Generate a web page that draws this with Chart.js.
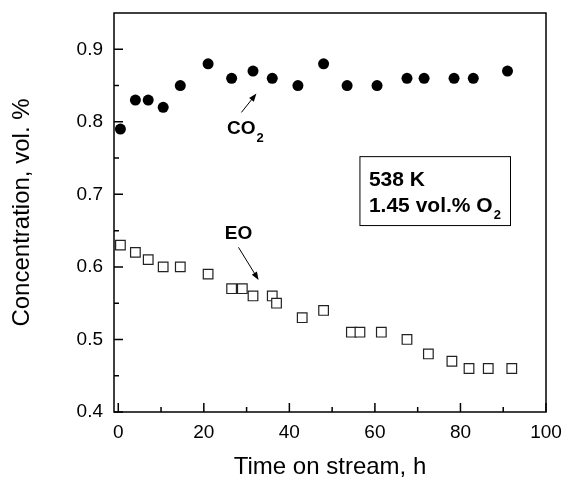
<!DOCTYPE html>
<html>
<head>
<meta charset="utf-8">
<script src="https://cdn.jsdelivr.net/npm/chart.js@4.4.1/dist/chart.umd.min.js"></script>
<style>
  html, body { margin: 0; padding: 0; background: #fff; overflow: hidden; }
  canvas { display: block; }
</style>
</head>
<body>
<canvas id="myChart" width="566" height="479"></canvas>
<script>
/*---------------------------- data ------------------------------------*/
var timeCO2 = [0.5, 4, 7, 10.5, 14.5, 21, 26.5, 31.5, 36, 42, 48, 53.5, 60.5, 67.5, 71.5, 78.5, 83, 91];
var co2     = [0.79, 0.83, 0.83, 0.82, 0.85, 0.88, 0.86, 0.87, 0.86, 0.85, 0.88, 0.85, 0.85, 0.86, 0.86, 0.86, 0.86, 0.87];

var timeEO = [0.5, 4, 7, 10.5, 14.5, 21, 26.5, 29, 31.5, 36, 37, 43, 48, 54.5, 56.5, 61.5, 67.5, 72.5, 78, 82, 86.5, 92];
var eo     = [0.63, 0.62, 0.61, 0.60, 0.60, 0.59, 0.57, 0.57, 0.56, 0.56, 0.55, 0.53, 0.54, 0.51, 0.51, 0.51, 0.50, 0.48, 0.47, 0.46, 0.46, 0.46];

var xTicks = [0, 20, 40, 60, 80, 100];
var yTicks = [0.4, 0.5, 0.6, 0.7, 0.8, 0.9];

var FONT = "'Liberation Sans', Arial, sans-serif";

/*---------------------------- frame + inward ticks + notes ------------------------------------*/
function arrow(ctx, x1, y1, x2, y2) {
  var a = Math.atan2(y2 - y1, x2 - x1), L = 8, W = 3;
  ctx.beginPath();
  ctx.moveTo(x1, y1);
  ctx.lineTo(x2 - L * 0.7 * Math.cos(a), y2 - L * 0.7 * Math.sin(a));
  ctx.stroke();
  ctx.beginPath();
  ctx.moveTo(x2, y2);
  ctx.lineTo(x2 - L * Math.cos(a) + W * Math.sin(a), y2 - L * Math.sin(a) - W * Math.cos(a));
  ctx.lineTo(x2 - L * Math.cos(a) - W * Math.sin(a), y2 - L * Math.sin(a) + W * Math.cos(a));
  ctx.closePath();
  ctx.fill();
}

function subText(ctx, x, y, main, sub, size) {
  ctx.font = "bold " + size + "px " + FONT;
  ctx.textBaseline = "middle";
  ctx.textAlign = "left";
  ctx.fillText(main, x, y);
  var w = ctx.measureText(main).width;
  if (sub) {
    ctx.font = "bold 13px " + FONT;
    ctx.fillText(sub, x + w + 1, y + 9);
  }
}

var framePlugin = {
  id: "frame",
  afterDraw: function (chart) {
    var ctx = chart.ctx, a = chart.chartArea;
    var xs = chart.scales.x, ys = chart.scales.y;
    ctx.save();
    ctx.strokeStyle = "#000";
    ctx.fillStyle = "#000";
    ctx.lineWidth = 1.5;
    ctx.strokeRect(a.left, a.top, a.right - a.left, a.bottom - a.top);

    // inward ticks
    ctx.beginPath();
    for (var v = 0; v <= 100; v += 10) {
      var px = xs.getPixelForValue(v);
      var len = (v % 20 === 0) ? 9 : 5;
      ctx.moveTo(px, a.bottom);
      ctx.lineTo(px, a.bottom - len);
    }
    for (var k = 8; k <= 18; k++) {
      var py = ys.getPixelForValue(k * 0.05);
      var len2 = (k % 2 === 0) ? 9 : 5;
      ctx.moveTo(a.left, py);
      ctx.lineTo(a.left + len2, py);
    }
    ctx.stroke();

    // CO2 label + arrow
    subText(ctx, xs.getPixelForValue(25.4), ys.getPixelForValue(0.79), "CO", "2", 19);
    ctx.lineWidth = 1;
    arrow(ctx, xs.getPixelForValue(28.8), ys.getPixelForValue(0.813),
               xs.getPixelForValue(32.3), ys.getPixelForValue(0.839));

    // EO label + arrow
    subText(ctx, xs.getPixelForValue(24.9), ys.getPixelForValue(0.645), "EO", null, 19);
    ctx.lineWidth = 1;
    arrow(ctx, xs.getPixelForValue(28.1), ys.getPixelForValue(0.627),
               xs.getPixelForValue(32.8), ys.getPixelForValue(0.582));

    // condition box
    var bx1 = xs.getPixelForValue(56.5), bx2 = xs.getPixelForValue(91.7);
    var by1 = ys.getPixelForValue(0.752), by2 = ys.getPixelForValue(0.657);
    ctx.lineWidth = 1;
    ctx.strokeRect(bx1, by1, bx2 - bx1, by2 - by1);
    subText(ctx, xs.getPixelForValue(58.6), ys.getPixelForValue(0.72), "538 K", null, 21);
    subText(ctx, xs.getPixelForValue(58.6), ys.getPixelForValue(0.683), "1.45 vol.% O", "2", 21);
    ctx.restore();
  }
};

/*---------------------------- ScatterChart ------------------------------------*/
new Chart("myChart", {
  type: "scatter",
  data: {
    datasets: [{
      label: "CO2",
      data: timeCO2.map(function (t, i) { return {x: t, y: co2[i]}; }),
      pointStyle: "circle",
      pointRadius: 5.5,
      backgroundColor: "#000",
      borderColor: "#000",
      borderWidth: 0
    }, {
      label: "EO",
      data: timeEO.map(function (t, i) { return {x: t, y: eo[i]}; }),
      pointStyle: "rect",
      pointRadius: 6.8,
      backgroundColor: "#fff",
      borderColor: "#222",
      borderWidth: 1.2
    }]
  },
  options: {
    responsive: false,
    animation: false,
    events: [],
    layout: {padding: {top: 13, right: 20, left: 0, bottom: 0}},
    plugins: {legend: {display: false}, tooltip: {enabled: false}},
    scales: {
      x: {
        type: "linear",
        min: -1, max: 100,
        afterFit: function (s) { s.height = 67; s.paddingLeft = 0; s.paddingRight = 0; },
        afterBuildTicks: function (s) { s.ticks = xTicks.map(function (v) { return {value: v}; }); },
        grid: {display: false, drawTicks: false},
        border: {display: false},
        ticks: {
          padding: 9, color: "#000", maxRotation: 0,
          font: {family: FONT, size: 19},
          callback: function (v) { return String(v); }
        },
        title: {
          display: true, text: "Time on stream, h", color: "#000",
          font: {family: FONT, size: 24, lineHeight: 1},
          padding: {top: 0, bottom: 0}
        }
      },
      y: {
        type: "linear",
        min: 0.4, max: 0.95,
        afterFit: function (s) { s.width = 114; s.paddingTop = 0; s.paddingBottom = 0; },
        afterBuildTicks: function (s) { s.ticks = yTicks.map(function (v) { return {value: v}; }); },
        grid: {display: false, drawTicks: false},
        border: {display: false},
        ticks: {
          padding: 11, color: "#000",
          font: {family: FONT, size: 19},
          callback: function (v) { return v.toFixed(1); }
        },
        title: {
          display: true, text: "Concentration, vol. %", color: "#000",
          font: {family: FONT, size: 24, lineHeight: 1},
          padding: {top: 10, bottom: 0}
        }
      }
    }
  },
  plugins: [framePlugin]
});
</script>
</body>
</html>
